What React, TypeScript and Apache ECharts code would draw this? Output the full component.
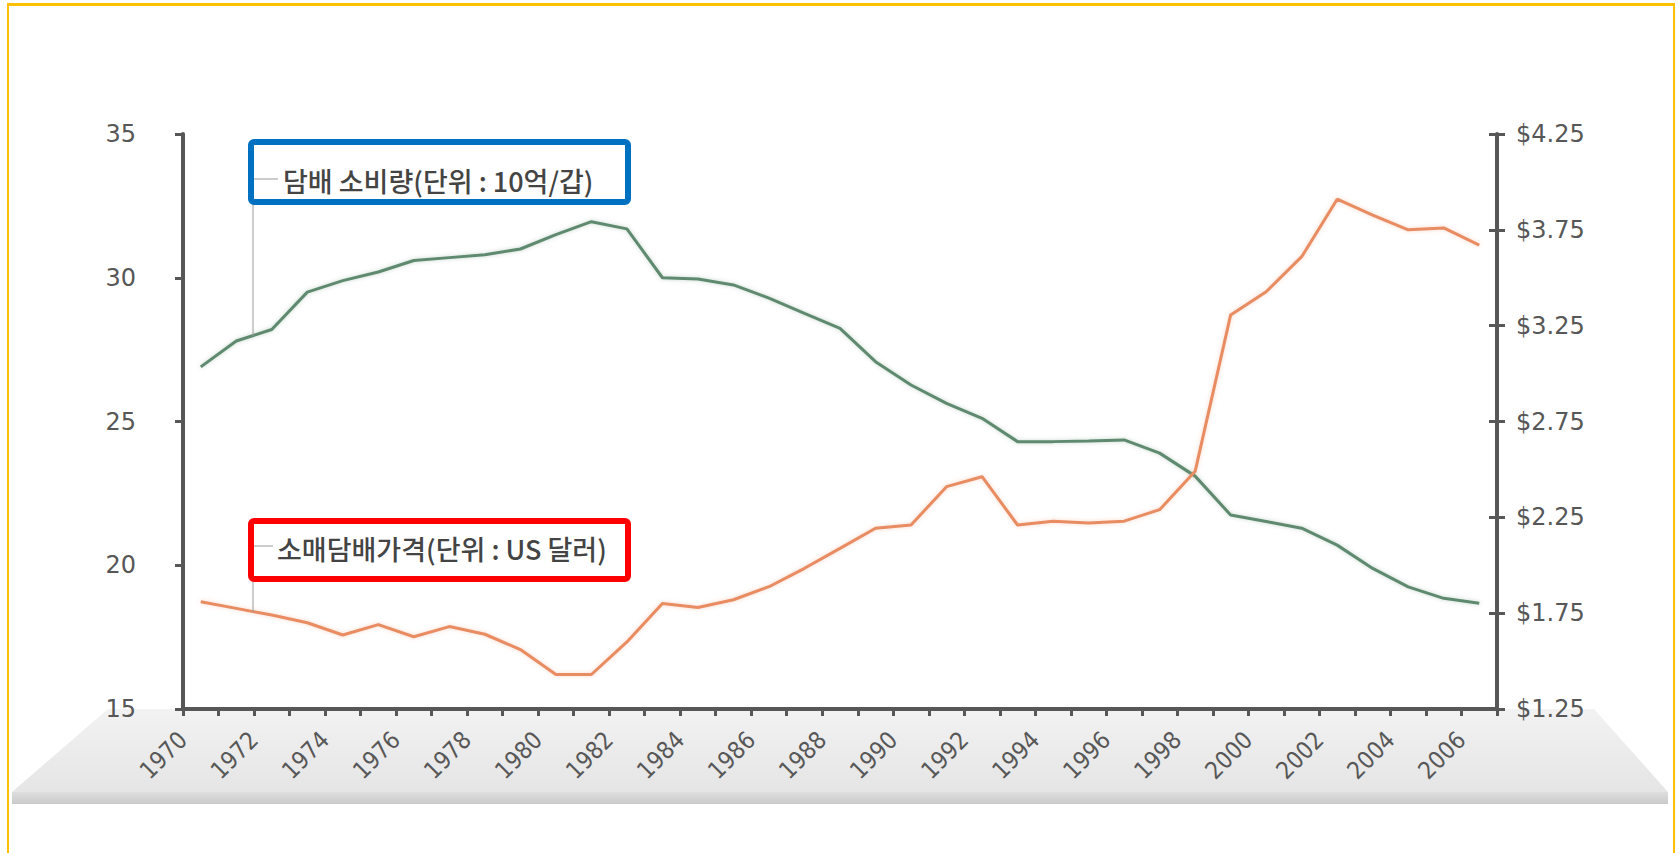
import React, { useEffect, useRef } from 'react';
import * as echarts from 'echarts';

const years = [
  '1970', '1971', '1972', '1973', '1974', '1975', '1976', '1977', '1978', '1979',
  '1980', '1981', '1982', '1983', '1984', '1985', '1986', '1987', '1988', '1989',
  '1990', '1991', '1992', '1993', '1994', '1995', '1996', '1997', '1998', '1999',
  '2000', '2001', '2002', '2003', '2004', '2005', '2006',
];

// 담배 소비량 (10억 갑)
const consumption = [
  26.9, 27.8, 28.2, 29.5, 29.9, 30.2, 30.6, 30.7, 30.8, 31.0,
  31.5, 31.95, 31.7, 30.0, 29.96, 29.75, 29.29, 28.76, 28.24, 27.08,
  26.27, 25.63, 25.11, 24.3, 24.3, 24.32, 24.36, 23.9, 23.1, 21.75,
  21.52, 21.29, 20.7, 19.89, 19.25, 18.85, 18.68,
];

// 소매 담배 가격 (US 달러)
const price = [
  1.81, 1.775, 1.74, 1.7, 1.636, 1.69, 1.627, 1.68, 1.64, 1.56,
  1.43, 1.43, 1.6, 1.8, 1.78, 1.82, 1.888, 1.984, 2.088, 2.193,
  2.21, 2.41, 2.462, 2.21, 2.23, 2.22, 2.23, 2.29, 2.49, 3.306,
  3.427, 3.61, 3.91, 3.827, 3.75, 3.76, 3.67,
];

const consumptionTicks = { min: 15, max: 35, step: 5 };
const priceTicks = [1.25, 1.75, 2.25, 2.75, 3.25, 3.75, 4.25];

const consumptionLabel = '담배 소비량(단위 : 10억/갑)';
const priceLabel = '소매담배가격(단위 : US 달러)';

export default function App() {
  const ref = useRef<HTMLDivElement>(null);

  useEffect(() => {
    if (!ref.current) return;
    const chart = echarts.init(ref.current, null, { renderer: 'svg' });
    const axisColor = '#575757';
    const gridRect = { left: 183, right: 182, top: 134, bottom: 144 };
    const yearLabelPos = years.map((_, i) => i).filter((i) => i % 2 === 0);
    const labelFont = 'DejaVu Sans';

    chart.setOption({
      animation: false,
      backgroundColor: '#ffffff',
      grid: [{ ...gridRect }, { ...gridRect }],
      xAxis: [
        {
          type: 'category',
          gridIndex: 0,
          data: years,
          boundaryGap: true,
          axisLine: { show: true, onZero: false, lineStyle: { color: axisColor, width: 4 } },
          axisTick: { show: true, interval: 0, length: 7, lineStyle: { color: axisColor, width: 3 } },
          axisLabel: { show: false },
          splitLine: { show: false },
        },
        {
          type: 'value',
          gridIndex: 1,
          position: 'bottom',
          min: 0,
          max: years.length,
          axisLine: { show: false, onZero: false },
          axisTick: { show: false },
          splitLine: { show: false },
          axisLabel: {
            customValues: yearLabelPos,
            formatter: (v: number) => years[v] ?? '',
            rotate: 45,
            margin: 27,
            fontSize: 24,
            color: axisColor,
            fontFamily: "'DejaVu Sans Condensed', 'Liberation Sans Narrow', 'DejaVu Sans', sans-serif",
          },
        },
      ],
      yAxis: [
        {
          type: 'value',
          gridIndex: 0,
          position: 'left',
          min: consumptionTicks.min,
          max: consumptionTicks.max,
          interval: consumptionTicks.step,
          axisLine: { show: true, onZero: false, lineStyle: { color: axisColor, width: 4 } },
          axisTick: { show: true, length: 8, lineStyle: { color: axisColor, width: 3 } },
          axisLabel: { margin: 47, fontSize: 24, color: axisColor, fontFamily: labelFont },
          splitLine: { show: false },
        },
        {
          type: 'value',
          gridIndex: 0,
          position: 'right',
          min: priceTicks[0],
          max: priceTicks[priceTicks.length - 1],
          axisLine: { show: true, onZero: false, lineStyle: { color: axisColor, width: 4 } },
          axisTick: { show: true, length: 8, customValues: priceTicks, lineStyle: { color: axisColor, width: 3 } },
          axisLabel: {
            customValues: priceTicks,
            formatter: (v: number) => '$' + v.toFixed(2),
            margin: 19,
            fontSize: 24,
            color: axisColor,
            fontFamily: labelFont,
          },
          splitLine: { show: false },
        },
        {
          type: 'value',
          gridIndex: 1,
          position: 'right',
          min: priceTicks[0],
          max: priceTicks[priceTicks.length - 1],
          axisLine: { show: false, onZero: false },
          axisTick: { show: true, inside: true, length: 8, customValues: priceTicks, lineStyle: { color: axisColor, width: 3 } },
          axisLabel: { show: false },
          splitLine: { show: false },
        },
      ],
      series: [
        {
          type: 'line',
          name: consumptionLabel,
          xAxisIndex: 0,
          yAxisIndex: 0,
          data: consumption,
          symbol: 'none',
          lineStyle: { color: '#5e8a70', width: 3, shadowBlur: 4, shadowColor: 'rgba(94,138,112,0.35)' },
          itemStyle: { color: '#5e8a70' },
          z: 3,
        },
        {
          type: 'line',
          name: priceLabel,
          xAxisIndex: 0,
          yAxisIndex: 1,
          data: price,
          symbol: 'none',
          lineStyle: { color: '#e98c62', width: 3, shadowBlur: 4, shadowColor: 'rgba(233,140,98,0.35)' },
          itemStyle: { color: '#e98c62' },
          z: 3,
        },
      ],
      graphic: [
        {
          type: 'polygon',
          z: -5,
          shape: { points: [[108, 709], [1594, 709], [1668, 792], [12, 792]] },
          style: {
            fill: new echarts.graphic.LinearGradient(0, 0, 0, 1, [
              { offset: 0, color: '#f2f2f2' },
              { offset: 1, color: '#e5e5e5' },
            ]),
          },
        },
        {
          type: 'rect',
          z: -5,
          shape: { x: 12, y: 792, width: 1656, height: 12 },
          style: {
            fill: new echarts.graphic.LinearGradient(0, 0, 0, 1, [
              { offset: 0, color: '#dedede' },
              { offset: 1, color: '#cacaca' },
            ]),
          },
        },
        {
          type: 'rect',
          z: -5,
          shape: { x: 8, y: 4.5, width: 1666, height: 900 },
          style: { fill: 'none', stroke: '#FFC000', lineWidth: 2 },
        },
        {
          type: 'line',
          z: -5,
          shape: { x1: 7, y1: 4.5, x2: 1675, y2: 4.5 },
          style: { stroke: '#FFC000', lineWidth: 3 },
        },
        // consumption annotation
        {
          type: 'polyline',
          z: 50,
          shape: { points: [[278, 179], [253, 179], [253, 336]] },
          style: { stroke: '#9a9a9a', lineWidth: 1, fill: 'none' },
        },
        {
          type: 'rect',
          z: 60,
          shape: { x: 251, y: 142, width: 377, height: 60, r: 3 },
          style: { fill: 'none', stroke: '#0070C0', lineWidth: 6 },
        },
        {
          type: 'text',
          z: 60,
          x: 283,
          y: 180,
          style: {
            text: consumptionLabel,
            fontSize: 27,
            fontWeight: 500,
            fontFamily: 'Noto Sans CJK KR',
            fill: '#444444',
            align: 'left',
            verticalAlign: 'middle',
          },
        },
        // price annotation
        {
          type: 'polyline',
          z: 50,
          shape: { points: [[273, 546], [253, 546], [253, 612]] },
          style: { stroke: '#9a9a9a', lineWidth: 1, fill: 'none' },
        },
        {
          type: 'rect',
          z: 60,
          shape: { x: 251, y: 521, width: 377, height: 58, r: 3 },
          style: { fill: 'none', stroke: '#FF0000', lineWidth: 6 },
        },
        {
          type: 'text',
          z: 60,
          x: 277,
          y: 548,
          style: {
            text: priceLabel,
            fontSize: 27,
            fontWeight: 500,
            fontFamily: 'Noto Sans CJK KR',
            fill: '#444444',
            align: 'left',
            verticalAlign: 'middle',
          },
        },
      ],
    });

    return () => {
      chart.dispose();
    };
  }, []);

  return (
    <div
      ref={ref}
      style={{ position: 'absolute', left: 0, top: 0, width: 1679, height: 853 }}
    />
  );
}
